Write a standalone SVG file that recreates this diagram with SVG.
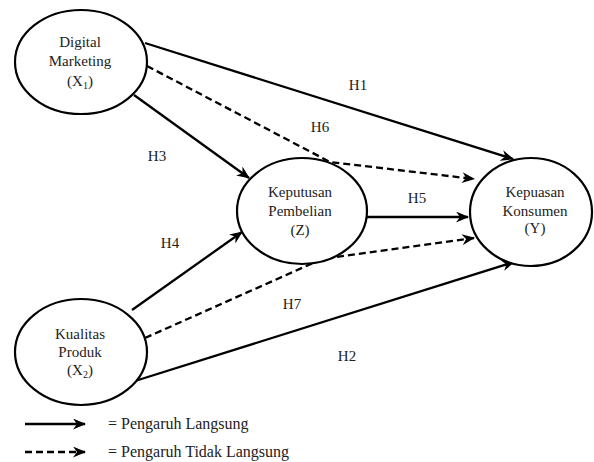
<svg xmlns="http://www.w3.org/2000/svg" width="594" height="462" viewBox="0 0 594 462">
<style>
.node{fill:#fff;stroke:#000;stroke-width:2.2}
.t{font-family:"Liberation Serif","Times New Roman",serif;font-size:15px;fill:#222;text-anchor:middle}
.lbl{font-family:"Liberation Serif","Times New Roman",serif;font-size:15px;fill:#222;text-anchor:middle}
.leg{font-family:"Liberation Serif","Times New Roman",serif;font-size:16px;fill:#222}
.solid{fill:none;stroke:#000;stroke-width:2.3;marker-end:url(#ah)}
.dash{fill:none;stroke:#000;stroke-width:2.3;stroke-dasharray:7 4;marker-end:url(#ah)}
</style>
<defs>
<marker id="ah" viewBox="0 0 13 11" refX="12" refY="5.5" markerWidth="13" markerHeight="11" markerUnits="userSpaceOnUse" orient="auto">
<path d="M0,0 L13,5.5 L0,11 L4,5.5 z" fill="#000"/>
</marker>
</defs>
<rect width="594" height="462" fill="#fff"/>
<g id="connectors">
<line class="solid" x1="145" y1="43" x2="513" y2="159"/>
<polyline class="dash" points="147,66 330,162 474,179"/>
<line class="solid" x1="134" y1="95" x2="249" y2="178"/>
<line class="solid" x1="367" y1="217" x2="468" y2="217"/>
<line class="solid" x1="132" y1="310" x2="242" y2="232"/>
<polyline class="dash" points="145,338 322,259 474,238"/>
<line class="solid" x1="135" y1="381" x2="514" y2="262"/>
<text class="lbl" x="358" y="90">H1</text>
<text class="lbl" x="320" y="132">H6</text>
<text class="lbl" x="157" y="161">H3</text>
<text class="lbl" x="417" y="203">H5</text>
<text class="lbl" x="170" y="248">H4</text>
<text class="lbl" x="292" y="309">H7</text>
<text class="lbl" x="347" y="361">H2</text>
</g>
<g id="node-dm">
<ellipse class="node" cx="81" cy="62" rx="66" ry="52"/>
<text class="t" x="80" y="47">Digital</text>
<text class="t" x="80" y="66">Marketing</text>
<text class="t" x="80" y="86">(X<tspan font-size="10" dy="3">1</tspan><tspan dy="-3">)</tspan></text>
</g>
<g id="node-kp">
<ellipse class="node" cx="81" cy="352" rx="66" ry="53"/>
<text class="t" x="80" y="339">Kualitas</text>
<text class="t" x="80" y="357">Produk</text>
<text class="t" x="80" y="375">(X<tspan font-size="10" dy="3">2</tspan><tspan dy="-3">)</tspan></text>
</g>
<g id="node-z">
<ellipse class="node" cx="302" cy="211" rx="65" ry="53"/>
<text class="t" x="300" y="197">Keputusan</text>
<text class="t" x="300" y="216">Pembelian</text>
<text class="t" x="300" y="235">(Z)</text>
</g>
<g id="node-y">
<ellipse class="node" cx="531" cy="212" rx="61" ry="54"/>
<text class="t" x="535" y="197">Kepuasan</text>
<text class="t" x="535" y="216">Konsumen</text>
<text class="t" x="535" y="233">(Y)</text>
</g>
<g id="legend">
<line class="solid" x1="25" y1="424" x2="85" y2="424"/>
<line class="dash" x1="25" y1="452" x2="85" y2="452"/>
<text class="leg" x="108" y="429">= Pengaruh Langsung</text>
<text class="leg" x="108" y="457">= Pengaruh Tidak Langsung</text>
</g>
</svg>
